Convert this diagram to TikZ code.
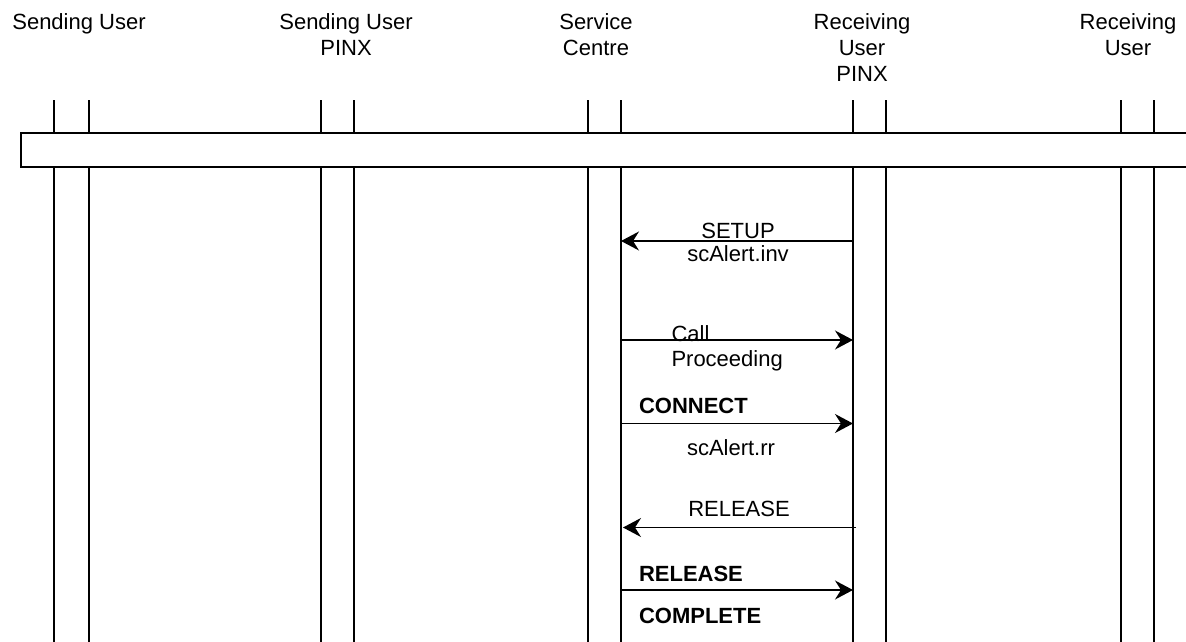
\documentclass[tikz,border=0pt]{standalone}
\usepackage{fontspec}
\setmainfont{Liberation Sans}
\usetikzlibrary{arrows.meta}
\begin{document}
\begin{tikzpicture}[x=1pt,y=-1pt,
  every node/.style={inner sep=0pt,outer sep=0pt,font=\fontsize{22}{25.8}\selectfont},
  hdr/.style={anchor=base,align=center},
  lbl/.style={anchor=base},
  lblL/.style={anchor=base west},
  bld/.style={anchor=base west,font=\fontsize{22}{25.8}\selectfont\bfseries},
  life/.style={line width=1.3pt},
  msg/.style={line width=1.4pt,-{Stealth[length=18pt,width=19pt,inset=6pt]}},
  barbox/.style={draw,line width=1.3pt,fill=white}]
\useasboundingbox (0,0) rectangle (1186,642);
% lifelines
\foreach \n/\x in {a1/54,a2/89,b1/321,b2/354,c1/588,c2/621,d1/853,d2/886,e1/1121,e2/1154}{
  \coordinate (\n top) at (\x,100);
  \coordinate (\n bot) at (\x,642);
  \draw[life] (\n top) -- (\n bot);
}
% bar
\draw[barbox] (21,133) rectangle (1200,167);
% headers (base anchor = last line)
\node[hdr] (h1) at (79,30) {Sending User};
\node[hdr] (h2) at (346,55.5) {Sending User\\PINX};
\node[hdr] (h3) at (596,55.5) {Service\\Centre};
\node[hdr] (h4) at (862,81.5) {Receiving\\User\\PINX};
\node[hdr] (h5) at (1128,55.5) {Receiving\\User};
% message rows
\coordinate (r1) at (0,241);
\coordinate (r2) at (0,340);
\coordinate (r3) at (0,423.5);
\coordinate (r4) at (0,527.5);
\coordinate (r5) at (0,590);
\draw[msg] (d1top |- r1) -- (c2top |- r1);
\draw[msg] (c2top |- r2) -- (d1top |- r2);
\draw[msg] (c2top |- r3) -- (d1top |- r3);
\draw[msg] ([xshift=3pt]d1top |- r4) -- ([xshift=2pt]c2top |- r4);
\draw[msg] (c2top |- r5) -- (d1top |- r5);
% labels
\node[lbl] (m1a) at (738,238) {SETUP};
\node[lbl] (m1b) at (738,261.5) {scAlert.inv};
\node[lblL] (m2a) at (671.5,341.5) {Call};
\node[lblL] (m2b) at (671.5,366.5) {Proceeding};
\node[bld] (m3a) at (639,413) {CONNECT};
\node[lbl] (m3b) at (731,455) {scAlert.rr};
\node[lbl] (m4a) at (739,516) {RELEASE};
\node[bld] (m5a) at (639,581) {RELEASE};
\node[bld] (m5b) at (639,623) {COMPLETE};
\end{tikzpicture}
\end{document}
